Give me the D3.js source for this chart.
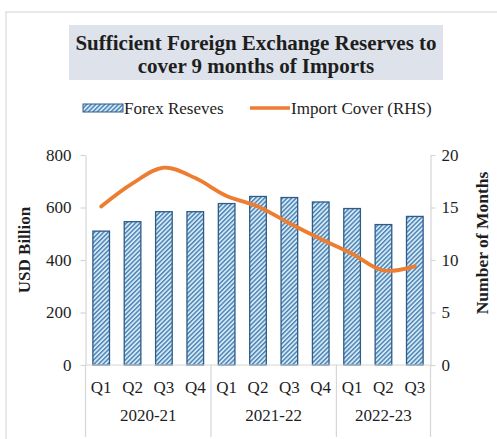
<!DOCTYPE html>
<html>
<head>
<meta charset="utf-8">
<script src="https://cdn.jsdelivr.net/npm/d3@7"></script>
<style>
  body { margin: 0; background: #fff; }
  svg { display: block; }
  text { font-family: "Liberation Serif", "Times New Roman", serif; fill: #1e1e1e; }
</style>
</head>
<body>
<svg id="chart" width="497" height="439"></svg>
<script>
// Quarterly forex reserves (USD bn) and import cover (months)
const quarters = ["Q1", "Q2", "Q3", "Q4", "Q1", "Q2", "Q3", "Q4", "Q1", "Q2", "Q3"];
const fiscalYears = ["2020-21", "2021-22", "2022-23"];
const quartersPerYear = [4, 4, 3];
const forexReserves = [510, 546, 584, 584, 615, 642, 638, 621, 596, 535, 566];
const importCover = [15.1, 17.3, 18.8, 17.8, 16.1, 15.1, 13.5, 12.0, 10.6, 9.0, 9.4];
const leftTicks = [0, 200, 400, 600, 800];
const rightTicks = [0, 5, 10, 15, 20];
const titleLines = ["Sufficient Foreign Exchange Reserves to", "cover 9 months of Imports"];

const svg = d3.select("#chart");
const plot = { left: 85.5, right: 430.5, top: 155, bottom: 365 };

const x = d3.scaleBand()
  .domain(d3.range(quarters.length))
  .range([plot.left, plot.right])
  .paddingInner(0).paddingOuter(0);
const yL = d3.scaleLinear().domain([0, 800]).range([plot.bottom, plot.top]);
const yR = d3.scaleLinear().domain([0, 20]).range([plot.bottom, plot.top]);

const barW = x.bandwidth() * 0.53;
const axisGrey = "#d6d6d6";

// Hatch fill for the reserve bars
const defs = svg.append("defs");
const pat = defs.append("pattern")
  .attr("id", "hatch")
  .attr("patternUnits", "userSpaceOnUse")
  .attr("width", 3.2).attr("height", 3.2)
  .attr("patternTransform", "rotate(45)");
pat.append("rect").attr("width", 3.2).attr("height", 3.2).attr("fill", "#d2e9f8");
pat.append("rect").attr("width", 1.4).attr("height", 3.2).attr("fill", "#4a7fb0");

// Outer frame lines
svg.append("line").attr("x1", 5).attr("x2", 497).attr("y1", 12).attr("y2", 12)
  .attr("stroke", "#e2e2e2").attr("stroke-width", 1.5);
svg.append("line").attr("x1", 6).attr("x2", 6).attr("y1", 12).attr("y2", 439)
  .attr("stroke", "#e2e2e2").attr("stroke-width", 1.5);

// Title box
svg.append("rect").attr("x", 69).attr("y", 25).attr("width", 374).attr("height", 55)
  .attr("fill", "#dde2eb");
svg.append("g").selectAll("text").data(titleLines).join("text")
  .attr("x", 256).attr("y", (d, i) => 50 + i * 23)
  .attr("text-anchor", "middle")
  .style("font-weight", "bold").style("font-size", "21px")
  .text(d => d);

// Legend
const lg = svg.append("g");
lg.append("rect").attr("x", 83).attr("y", 104).attr("width", 40).attr("height", 8)
  .attr("fill", "url(#hatch)").attr("stroke", "#2d5c88").attr("stroke-width", 1);
lg.append("text").attr("x", 124).attr("y", 114).style("font-size", "17px").text("Forex Reseves");
lg.append("line").attr("x1", 250).attr("x2", 290).attr("y1", 108).attr("y2", 108)
  .attr("stroke", "#ed7d31").attr("stroke-width", 3.5);
lg.append("text").attr("x", 291).attr("y", 114).style("font-size", "17px").text("Import Cover (RHS)");

// Y axes
function styleAxis(g) {
  g.select(".domain").attr("stroke", axisGrey).attr("stroke-width", 1.2);
  g.selectAll(".tick line").attr("stroke", axisGrey).attr("stroke-width", 1.2);
  g.selectAll(".tick text")
    .style("font-family", "'Liberation Serif', 'Times New Roman', serif")
    .style("font-size", "17px").attr("fill", "#1e1e1e");
}
svg.append("g").attr("transform", `translate(${plot.left},0)`)
  .call(d3.axisLeft(yL).tickValues(leftTicks).tickSize(5).tickSizeOuter(0).tickPadding(9))
  .call(styleAxis);
svg.append("g").attr("transform", `translate(${plot.right},0)`)
  .call(d3.axisRight(yR).tickValues(rightTicks).tickSize(5).tickSizeOuter(0).tickPadding(6))
  .call(styleAxis);

// Axis titles
svg.append("text").attr("transform", "translate(30,250) rotate(-90)")
  .attr("text-anchor", "middle").style("font-weight", "bold").style("font-size", "17px")
  .text("USD Billion");
svg.append("text").attr("transform", "translate(488,243) rotate(-90)")
  .attr("text-anchor", "middle").style("font-weight", "bold").style("font-size", "17.5px")
  .text("Number of Months");

// Bars
svg.append("g").selectAll("rect").data(forexReserves).join("rect")
  .attr("x", (d, i) => x(i) + (x.bandwidth() - barW) / 2)
  .attr("y", d => yL(d))
  .attr("width", barW)
  .attr("height", d => yL(0) - yL(d))
  .attr("fill", "url(#hatch)")
  .attr("stroke", "#2d5c88").attr("stroke-width", 1.3);

// Category axis: baseline, quarter labels, year groups
svg.append("line").attr("x1", plot.left).attr("x2", plot.right)
  .attr("y1", plot.bottom).attr("y2", plot.bottom)
  .attr("stroke", axisGrey).attr("stroke-width", 1.2);
svg.append("g").selectAll("text").data(quarters).join("text")
  .attr("x", (d, i) => x(i) + x.bandwidth() / 2).attr("y", 393)
  .attr("text-anchor", "middle").style("font-size", "17px")
  .text(d => d);

const groupStarts = [0];
quartersPerYear.forEach((n, i) => groupStarts.push(groupStarts[i] + n));
const edgeX = k => k < quarters.length ? x(k) : plot.right;
svg.append("g").selectAll("line").data(groupStarts).join("line")
  .attr("x1", k => edgeX(k)).attr("x2", k => edgeX(k))
  .attr("y1", plot.bottom).attr("y2", 437)
  .attr("stroke", axisGrey).attr("stroke-width", 1.2);
svg.append("g").selectAll("text").data(fiscalYears).join("text")
  .attr("x", (d, i) => (edgeX(groupStarts[i]) + edgeX(groupStarts[i + 1])) / 2)
  .attr("y", 421)
  .attr("text-anchor", "middle").style("font-size", "17px")
  .text(d => d);

// Import cover line (right axis)
const line = d3.line()
  .x((d, i) => x(i) + x.bandwidth() / 2)
  .y(d => yR(d))
  .curve(d3.curveCatmullRom.alpha(0.5));
svg.append("path").datum(importCover)
  .attr("d", line)
  .attr("fill", "none")
  .attr("stroke", "#ed7d31").attr("stroke-width", 3.8)
  .attr("stroke-linecap", "round").attr("stroke-linejoin", "round");
</script>
</body>
</html>
